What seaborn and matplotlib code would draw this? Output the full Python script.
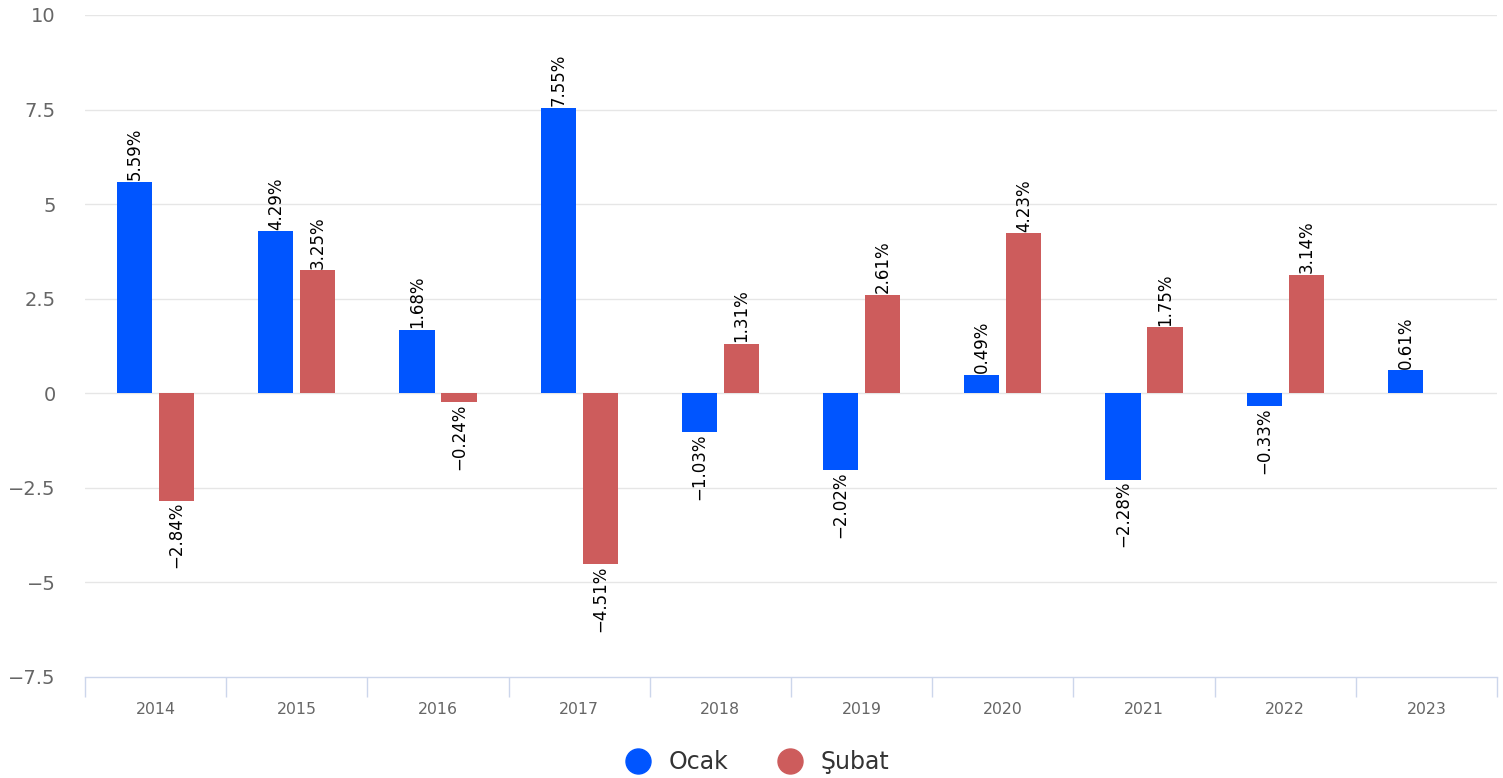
import seaborn as sns
import matplotlib.pyplot as plt
from matplotlib.lines import Line2D
import numpy as np
import pandas as pd

years = ["2014", "2015", "2016", "2017", "2018", "2019", "2020", "2021", "2022", "2023"]
ocak = [5.59, 4.29, 1.68, 7.55, -1.03, -2.02, 0.49, -2.28, -0.33, 0.61]
subat = [-2.84, 3.25, -0.24, -4.51, 1.31, 2.61, 4.23, 1.75, 3.14, np.nan]
series_names = ["Ocak", "Şubat"]
colors = ["#0055FF", "#CD5C5C"]

df = pd.DataFrame({
    "year": years * 2,
    "value": ocak + subat,
    "series": [series_names[0]] * len(years) + [series_names[1]] * len(years),
})

sns.set_theme(style="white")
plt.rcParams['font.family'] = ['DejaVu Sans']

fig = plt.figure(figsize=(15.03, 7.78), dpi=100)
ax = fig.add_axes([85 / 1503, 1 - 677 / 778, (1497 - 85) / 1503, (677 - 15) / 778])

sns.barplot(data=df, x="year", y="value", hue="series", order=years,
            hue_order=series_names, palette=colors, width=0.595, gap=0.166,
            saturation=1, legend=False, linewidth=0, ax=ax)

# value labels, rotated
for cont in ax.containers:
    labels = []
    for v in cont.datavalues:
        if np.isnan(v):
            labels.append("")
        else:
            labels.append(f"{v:.2f}%".replace("-", "\u2212"))
    ax.bar_label(cont, labels=labels, rotation=90, padding=1,
                 fontsize=12, color="black")

ax.set_ylim(-7.5, 10)
ax.set_xlim(-0.5, len(years) - 0.5)
yt = np.arange(-7.5, 10.01, 2.5)
ax.set_yticks(yt)
ax.set_yticklabels([f"{t:g}".replace("-", "\u2212") for t in yt])
ax.tick_params(axis="y", length=0, pad=21, labelsize=14, labelcolor="#666666")
for t in yt[1:]:
    ax.axhline(t, color="#e6e6e6", lw=1, zorder=0)

# x axis: labels centered, ticks on category boundaries
ax.set_xticks(range(len(years)))
ax.set_xticklabels(years)
ax.set_xticks(np.arange(-0.5, len(years)), minor=True)
ax.tick_params(axis="x", which="major", bottom=True, length=0, pad=18,
               labelsize=11.3, labelcolor="#666666")
ax.tick_params(axis="x", which="minor", bottom=True, length=14.5, width=1,
               color="#ccd6eb", direction="out")
ax.set_xlabel("")
ax.set_ylabel("")

for s in ["top", "right", "left"]:
    ax.spines[s].set_visible(False)
ax.spines["bottom"].set_color("#ccd6eb")
ax.spines["bottom"].set_linewidth(1)

handles = [Line2D([0], [0], marker="o", linestyle="", markersize=18,
                  markerfacecolor=c, markeredgecolor=c) for c in colors]
fig.legend(handles, series_names, loc="center", bbox_to_anchor=(0.5, 1 - 762 / 778),
           ncol=2, frameon=False, fontsize=17, handletextpad=0.3,
           columnspacing=1.6, labelcolor="#333333")

fig.savefig("out.png", dpi=100)
